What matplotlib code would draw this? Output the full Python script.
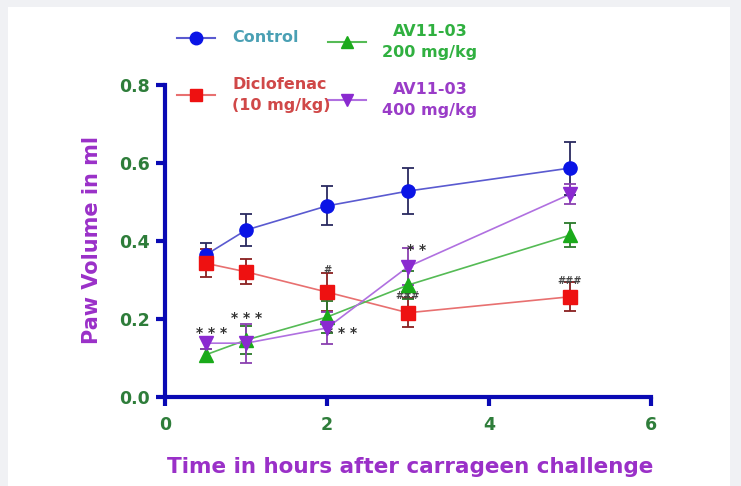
"""Paw volume after carrageenan challenge, four treatment groups."""
import matplotlib.pyplot as plt
from matplotlib.lines import Line2D
from matplotlib.patches import Rectangle

plt.rcParams["font.family"] = ["DejaVu Sans"]
plt.rcParams["font.weight"] = "bold"

hours = [0.5, 1, 2, 3, 5]

control = [0.364, 0.428, 0.49, 0.528, 0.587]
control_err = [0.032, 0.04, 0.05, 0.06, 0.068]
diclofenac = [0.343, 0.321, 0.269, 0.216, 0.257]
diclofenac_err = [0.036, 0.032, 0.048, 0.037, 0.037]
av_200 = [0.108, 0.146, 0.205, 0.287, 0.415]
av_200_err = [0.015, 0.035, 0.04, 0.035, 0.03]
av_400 = [0.138, 0.138, 0.177, 0.334, 0.52]
av_400_err = [0.015, 0.05, 0.04, 0.048, 0.025]

# (x, y, text) significance marks
stars = [(0.57, 0.164, "* * *"), (1.01, 0.203, "* * *"), (2.18, 0.164, "* * *"),
         (3.11, 0.377, "* *")]
hashes = [(2.0, 0.325, "#"), (3.0, 0.258, "###"), (5.0, 0.298, "###")]

# label, values, errors, marker, marker colour, line colour, errorbar colour, legend text colour
series = [
    ("Control", control, control_err, "o", "#0a14e6", "#5a5ad0", "#2a2a60", "#4aa0b4"),
    ("Diclofenac\n(10 mg/kg)", diclofenac, diclofenac_err, "s", "#ee1111", "#e87070", "#8a2020", "#d04848"),
    ("AV11-03\n200 mg/kg", av_200, av_200_err, "^", "#1aaa1a", "#55bb55", "#2a7a2a", "#30b040"),
    ("AV11-03\n400 mg/kg", av_400, av_400_err, "v", "#8a2ad0", "#b070e0", "#8a40b0", "#9a3cc8"),
]

W, H = 741, 486
fig = plt.figure(figsize=(W / 100, H / 100), dpi=100)
fig.patch.set_facecolor("#f0f1f4")
fig.add_artist(Rectangle((8 / W, 0), 722 / W, 1 - 7 / H, transform=fig.transFigure,
                         facecolor="white", edgecolor="none", zorder=-1))
ax = fig.add_axes([165 / W, 1 - 397 / H, (651 - 165) / W, (397 - 85) / H])
ax.set_facecolor("none")

for label, vals, err, mk, mcol, lcol, ecol, tcol in series:
    ax.plot(hours, vals, color=lcol, lw=1.2, zorder=2)
    ax.errorbar(hours, vals, yerr=err, fmt="none", ecolor=ecol, elinewidth=1.3,
                capsize=4, capthick=1.3, zorder=3)
    ax.plot(hours, vals, ls="none", marker=mk, ms=9.5, color=mcol, zorder=4)

for x, y, t in stars:
    ax.text(x, y, t, ha="center", va="center", fontsize=10, color="#333333")
for x, y, t in hashes:
    ax.text(x, y, t, ha="center", va="center", fontsize=7, color="#444444")

ax.set_xlim(0, 6)
ax.set_ylim(0, 0.8)
ax.set_xticks([0, 2, 4, 6])
ax.set_yticks([0, 0.2, 0.4, 0.6, 0.8])
ax.set_yticklabels(["0.0", "0.2", "0.4", "0.6", "0.8"])
for s in ["top", "right"]:
    ax.spines[s].set_visible(False)
for s in ["left", "bottom"]:
    ax.spines[s].set_color("#0a0ab4")
    ax.spines[s].set_linewidth(3)
ax.tick_params(colors="#0a0ab4", width=3, length=6.5, labelsize=12.5,
               labelcolor="#2e7d3a")
ax.tick_params(axis="x", pad=7)
ax.tick_params(axis="y", pad=4.5)
ax.set_xlabel("Time in hours after carrageen challenge", fontsize=15.5,
              fontweight="bold", color="#9a30c8")
ax.set_ylabel("Paw Volume in ml", fontsize=15, fontweight="bold", color="#9a30c8")
ax.xaxis.set_label_coords(0.504, -0.192)
ax.yaxis.set_label_coords(-0.13, 0.503)

# legend drawn by hand, two columns like the original
legend_pos = [(177, 215, 38, 232, "left"), (177, 215, 95, 232, "left"),
              (328, 366, 42, 430, "center"), (328, 366, 100, 430, "center")]
for (label, vals, err, mk, mcol, lcol, ecol, tcol), (x0, x1, y, tx, ha) in zip(series, legend_pos):
    fy = 1 - y / H
    fig.add_artist(Line2D([x0 / W, x1 / W], [fy, fy], color=lcol, lw=1.5,
                          transform=fig.transFigure))
    fig.add_artist(Line2D([(x0 + x1) / 2 / W], [fy], marker=mk, ms=9,
                          color=mcol, transform=fig.transFigure))
    fig.text(tx / W, fy, label, ha=ha, va="center", fontsize=11.5, color=tcol,
             linespacing=1.45, multialignment=ha)

fig.savefig("out.png", dpi=100, facecolor=fig.get_facecolor())
